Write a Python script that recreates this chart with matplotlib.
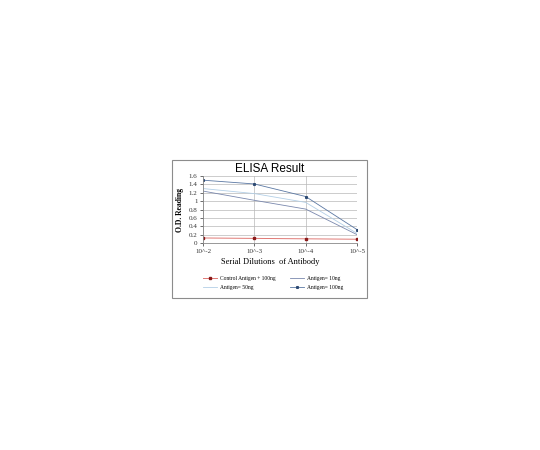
import matplotlib
matplotlib.use("Agg")
import matplotlib.pyplot as plt
from matplotlib.patches import Rectangle

# dilution steps and OD readings
dilutions = ["10^-2", "10^-3", "10^-4", "10^-5"]
control_100 = [0.12, 0.11, 0.10, 0.09]
antigen_10 = [1.24, 1.02, 0.81, 0.20]
antigen_50 = [1.30, 1.18, 0.97, 0.23]
antigen_100 = [1.50, 1.41, 1.11, 0.32]
yticks = [0, 0.2, 0.4, 0.6, 0.8, 1, 1.2, 1.4, 1.6]

fig = plt.figure(figsize=(5.4, 4.5), dpi=100)

# grey frame round the whole chart
fig.patches.append(Rectangle((172/540, 1-298/450), 195/540, 138/450,
                             transform=fig.transFigure, fill=False,
                             edgecolor="#8c8c8c", linewidth=0.8))

ax = fig.add_axes([203/540, 1-243/450, 154/540, 67/450])
x = range(len(dilutions))

serif = "Liberation Serif"
l_ctrl, = ax.plot(x, control_100, color="#e07874", lw=0.7, marker="s", ms=1.5,
                  mfc="#8b1a1a", mec="#8b1a1a", label="Control Antigen + 100ng")
l_10, = ax.plot(x, antigen_10, color="#7a88ad", lw=0.6, label="Antigen= 10ng")
l_50, = ax.plot(x, antigen_50, color="#b3cfe6", lw=0.6, label="Antigen= 50ng")
l_100, = ax.plot(x, antigen_100, color="#5b78a3", lw=0.6, marker="s", ms=1.2,
                 mfc="#2d4a73", mec="#2d4a73", label="Antigen= 100ng")

ax.set_xlim(0, 3)
ax.set_ylim(0, 1.6)
ax.set_yticks(yticks)
ax.set_yticklabels([f"{v:g}" for v in yticks], fontsize=5, family=serif)
ax.set_xticks(list(x))
ax.set_xticklabels(dilutions, fontsize=5, family=serif)
ax.tick_params(length=2, width=0.5, pad=2, colors="#333333")
ax.grid(True, color="#b8b8b8", lw=0.5)
ax.set_axisbelow(True)
for s in ["top", "right"]:
    ax.spines[s].set_visible(False)
for s in ["left", "bottom"]:
    ax.spines[s].set_color("#888888")
    ax.spines[s].set_linewidth(0.6)

fig.text(270/540, 1-169/450, "ELISA Result", fontsize=8.5,
         family="Liberation Sans", ha="center", va="center")
fig.text(270/540, 1-262/450, "Serial Dilutions  of Antibody", fontsize=6,
         family=serif, ha="center", va="center")
ax.set_ylabel("O.D. Reading", fontsize=5.5, family=serif, fontweight="bold", labelpad=3)

# legend laid out row-wise like the reference (matplotlib fills by column)
handles = [l_ctrl, l_50, l_10, l_100]
leg = fig.legend(handles, [h.get_label() for h in handles], loc="center",
                 bbox_to_anchor=(273/540, 1-283/450), ncol=2,
                 frameon=False, prop={"family": serif, "size": 4},
                 handlelength=2.5, columnspacing=2.5, labelspacing=0.6,
                 handletextpad=0.6)

fig.savefig("out.png", dpi=100, facecolor="white")
